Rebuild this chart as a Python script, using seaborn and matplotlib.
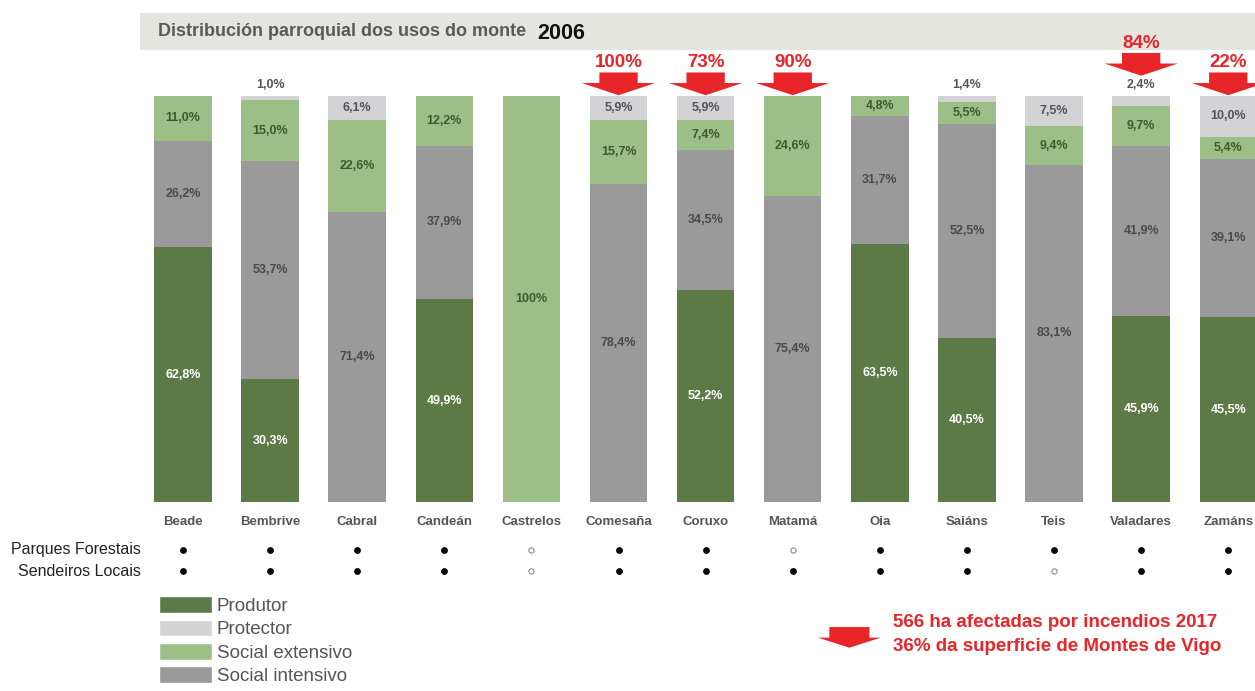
import numpy as np
import pandas as pd
import matplotlib
matplotlib.use('Agg')
import matplotlib.pyplot as plt
from matplotlib.patches import Patch, Rectangle
import seaborn as sns

# ── DATA ──────────────────────────────────────────────────
parroquias = ['Beade', 'Bembrive', 'Cabral', 'Candeán', 'Castrelos', 'Comesaña',
              'Coruxo', 'Matamá', 'Oia', 'Saiáns', 'Teis', 'Valadares', 'Zamáns']
produtor = [62.8, 30.3, 0, 49.9, 0, 0, 52.2, 0, 63.5, 40.5, 0, 45.9, 45.5]
social_intensivo = [26.2, 53.7, 71.4, 37.9, 0, 78.4, 34.5, 75.4, 31.7, 52.5, 83.1, 41.9, 39.1]
social_extensivo = [11.0, 15.0, 22.6, 12.2, 100, 15.7, 7.4, 24.6, 4.8, 5.5, 9.4, 9.7, 5.4]
protector = [0, 1.0, 6.1, 0, 0, 5.9, 5.9, 0, 0, 1.4, 7.5, 2.4, 10.0]

incendio_parroquias = ['Comesaña', 'Coruxo', 'Matamá', 'Valadares', 'Zamáns']
incendio_pct = [100, 73, 90, 84, 22]

parques_forestais = [1, 1, 1, 1, 0, 1, 1, 0, 1, 1, 1, 1, 1]
sendeiros_locais = [1, 1, 1, 1, 0, 1, 1, 1, 1, 1, 0, 1, 1]

# ── COLOURS ───────────────────────────────────────────────
C_PROD = '#5b7a45'
C_PROT = '#d3d3d5'
C_EXT = '#9cbf88'
C_INT = '#9a9a9a'
RED = '#e8262a'

sns.set_theme(style='white')
plt.rcParams['font.family'] = ['Liberation Sans', 'DejaVu Sans']

fig = plt.figure(figsize=(12.55, 6.91), dpi=100)
ax = fig.add_axes([0, 0, 1, 1])

# title band behind everything
ax.add_patch(Rectangle((0.1116, 0.9276), 0.8884, 0.0536, transform=ax.transAxes,
                       facecolor='#e4e5df', edgecolor='none', zorder=0))

df = pd.DataFrame({'parroquia': parroquias, 'prod': produtor, 'int': social_intensivo,
                   'ext': social_extensivo, 'prot': protector})
df['c1'] = df['prod']
df['c2'] = df['c1'] + df['int']
df['c3'] = df['c2'] + df['ext']
df['c4'] = df['c3'] + df['prot']

# stacked bars drawn as layered cumulative totals
for col, colour in [('c4', C_PROT), ('c3', C_EXT), ('c2', C_INT), ('c1', C_PROD)]:
    sns.barplot(data=df, x='parroquia', y=col, order=parroquias, color=colour,
                saturation=1, width=0.66, errorbar=None, linewidth=0,
                edgecolor='none', ax=ax)

ax.set_xlim(-2.101, 12.307)
ax.set_ylim(-46.55, 123.65)
ax.set_axis_off()

# ── SEGMENT LABELS ────────────────────────────────────────
def fmt(v):
    if v == 100:
        return '100%'
    return f'{v:.1f}'.replace('.', ',') + '%'

lab_kw = dict(ha='center', va='center', fontsize=9, fontweight='bold')
for i, r in df.iterrows():
    if r['prod'] > 0:
        ax.text(i, r['prod'] / 2, fmt(r['prod']), color='white', **lab_kw)
    if r['int'] > 0:
        ax.text(i, r['c1'] + r['int'] / 2, fmt(r['int']), color='#4a4a4a', **lab_kw)
    if r['ext'] > 0:
        ax.text(i, r['c2'] + r['ext'] / 2, fmt(r['ext']), color='#3d5a2c', **lab_kw)
    if r['prot'] > 0:
        if r['prot'] < 3:
            ax.text(i, 102.8, fmt(r['prot']), color='#555555', **lab_kw)
        else:
            ax.text(i, r['c3'] + r['prot'] / 2, fmt(r['prot']), color='#555555', **lab_kw)
    ax.text(i, -4.9, r['parroquia'], ha='center', va='center', fontsize=9.5,
            fontweight='bold', color='#555555')

# ── FIRE ARROWS ───────────────────────────────────────────
for name, pct in zip(incendio_parroquias, incendio_pct):
    i = parroquias.index(name)
    tip = 105.0 if 0 < protector[i] < 3 else 100.2
    ax.arrow(i, tip + 5.6, 0, -5.6, width=0.44, head_width=0.84, head_length=3.0,
             length_includes_head=True, color=RED, lw=0, zorder=4)
    ax.text(i, tip + 8.0, f'{pct}%', ha='center', va='center', fontsize=13.5,
            fontweight='bold', color=RED, zorder=4)

# ── PARQUES / SENDEIROS ───────────────────────────────────
x = np.arange(len(parroquias))
for yrow, flags, label in [(-11.8, parques_forestais, 'Parques Forestais'),
                           (-17.0, sendeiros_locais, 'Sendeiros Locais')]:
    flags = np.array(flags)
    ax.scatter(x[flags == 1], np.full((flags == 1).sum(), yrow), s=15,
               color='black', zorder=5)
    ax.scatter(x[flags == 0], np.full((flags == 0).sum(), yrow), s=14,
               facecolor='white', edgecolor='#888888', linewidth=0.8, zorder=5)
    ax.text(-0.48, yrow, label, ha='right', va='center', fontsize=11.5, color='#222222')

# ── TITLE ─────────────────────────────────────────────────
fig.text(0.126, 0.954, 'Distribución parroquial dos usos do monte', ha='left',
         va='center', fontsize=13, fontweight='bold', color='#5a5a5a')
fig.text(0.428, 0.952, '2006', ha='left', va='center', fontsize=15.5,
         fontweight='bold', color='#111111')

# ── LEGEND ────────────────────────────────────────────────
handles = [Patch(facecolor=C_PROD, label='Produtor'),
           Patch(facecolor=C_PROT, label='Protector'),
           Patch(facecolor=C_EXT, label='Social extensivo'),
           Patch(facecolor=C_INT, label='Social intensivo')]
leg = fig.legend(handles=handles, loc='upper left', bbox_to_anchor=(0.127, 0.137),
                 frameon=False, fontsize=13.5, handlelength=2.8, handleheight=1.0,
                 handletextpad=0.25, labelspacing=0.24, borderpad=0, borderaxespad=0)
for t in leg.get_texts():
    t.set_color('#555555')

# ── BOTTOM NOTE ───────────────────────────────────────────
ax.arrow(7.65, -30.8, 0, -5.1, width=0.46, head_width=0.72, head_length=2.5,
         length_includes_head=True, color=RED, lw=0)
ax.text(8.15, -29.8, '566 ha afectadas por incendios 2017', ha='left', va='center',
        fontsize=13.5, fontweight='bold', color=RED)
ax.text(8.15, -35.5, '36% da superficie de Montes de Vigo', ha='left', va='center',
        fontsize=13.5, fontweight='bold', color=RED)

fig.savefig('out.png', dpi=100, facecolor='white')
